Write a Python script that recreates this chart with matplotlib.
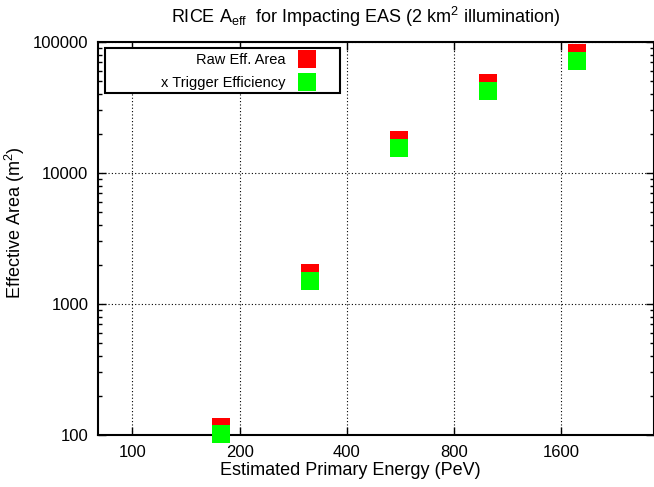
import matplotlib
matplotlib.use("Agg")
import matplotlib.pyplot as plt
from matplotlib.patches import Rectangle
from matplotlib.ticker import LogLocator, NullFormatter

plt.rcParams['font.family'] = ['Liberation Sans', 'DejaVu Sans']
plt.rcParams['mathtext.fontset'] = 'custom'
plt.rcParams['mathtext.rm'] = 'Liberation Sans'
plt.rcParams['mathtext.it'] = 'Liberation Sans'

# primary energies (PeV) and effective areas (m^2)
energy = [177.8, 316.2, 562.3, 1000.0, 1778.3]
raw_area = [115, 1725, 17900, 48600, 82400]
trig_area = [102, 1500, 15500, 42300, 71600]

xticks = [100, 200, 400, 800, 1600]
yticks = [100, 1000, 10000, 100000]

fig = plt.figure(figsize=(6.54, 4.87), dpi=100)
ax = fig.add_axes([98 / 654, 1 - 435 / 487, 1 - 98 / 654, (435 - 42) / 487])

ax.plot(energy, raw_area, 's', color='#ff0000', ms=13, mew=0,
        label='Raw Eff. Area', clip_on=False, zorder=3)
ax.plot(energy, trig_area, 's', color='#00ff00', ms=13, mew=0,
        label='x Trigger Efficiency', clip_on=False, zorder=4)

ax.set_xscale('log', base=2)
ax.set_yscale('log')
ax.set_xlim(80, 2920)
ax.set_ylim(100, 100000)

ax.set_xticks(xticks)
ax.set_xticklabels([str(t) for t in xticks])
ax.xaxis.set_minor_locator(plt.NullLocator())
ax.set_yticks(yticks)
ax.set_yticklabels([str(t) for t in yticks])
ax.yaxis.set_minor_locator(LogLocator(base=10, subs=range(2, 10)))
ax.yaxis.set_minor_formatter(NullFormatter())

ax.tick_params(which='both', direction='in', top=True, right=True,
               labelsize=12, width=1.0)
ax.tick_params(which='major', length=6, pad=7)
ax.tick_params(which='minor', length=3)
for s in ax.spines.values():
    s.set_linewidth(1.5)

ax.grid(True, which='major', color='black', linestyle=(0, (1, 2)), linewidth=0.8)

ax.set_xlabel('Estimated Primary Energy (PeV)', fontsize=13)
ax.xaxis.set_label_coords(0.453, -0.068)
ax.set_ylabel('Effective Area (m$^2$)', fontsize=13)
ax.yaxis.set_label_coords(-0.128, 0.54)
ax.set_title(r'RICE A$_{\rm eff}$  for Impacting EAS (2 km$^2$ illumination)',
             fontsize=13, pad=14, x=0.482)

# legend box drawn separately so it can be wider than its entries
box = Rectangle((7 / 556, (435 - 93) / 393), 235 / 556, 45 / 393,
                transform=ax.transAxes, facecolor='white', edgecolor='black',
                linewidth=1.5, zorder=5)
ax.add_patch(box)

leg = ax.legend(loc='upper right', bbox_to_anchor=((318 - 98) / 556, (435 - 53) / 393),
                borderaxespad=0, markerfirst=False, frameon=False,
                fontsize=10.5, labelspacing=0.65, handlelength=1.5,
                handletextpad=0.7, borderpad=0)
leg.set_zorder(6)

fig.savefig('out.png', dpi=100)
